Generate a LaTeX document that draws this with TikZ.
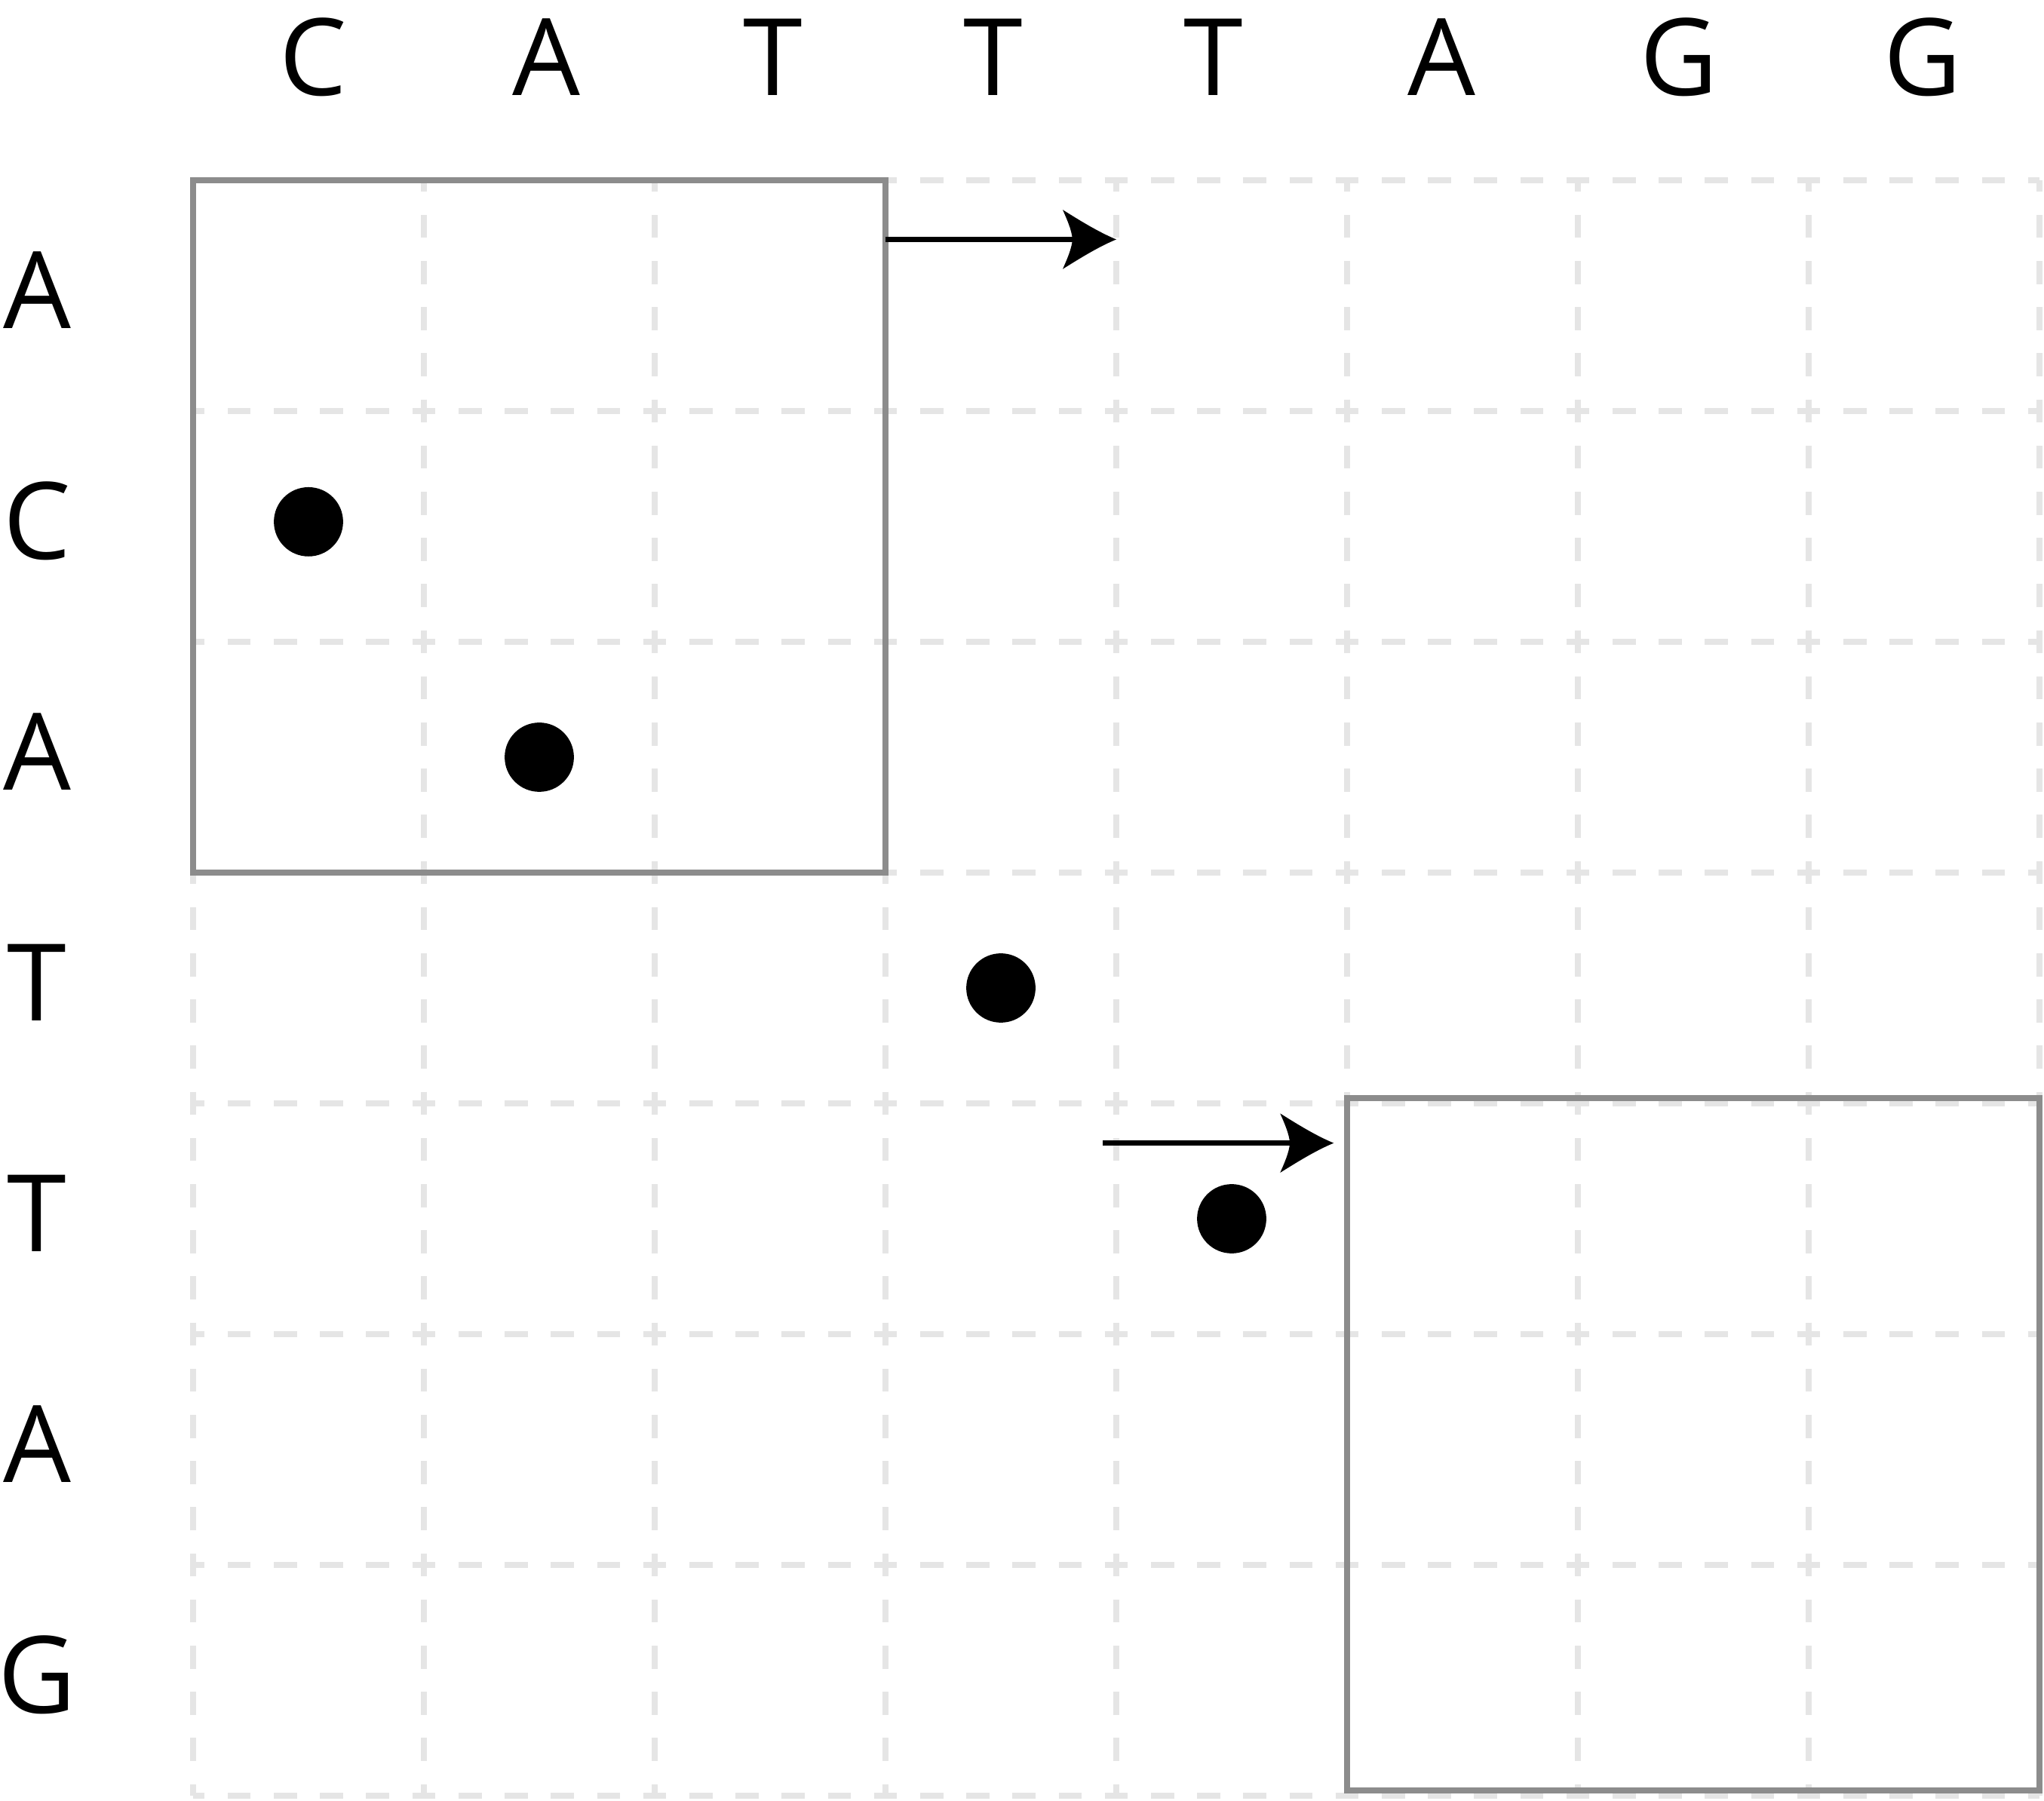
\documentclass[tikz,border=0pt]{standalone}
\usepackage{fontspec}
\setmainfont{Open Sans}
\usetikzlibrary{arrows.meta}

% curved arrow head
\pgfdeclarearrow{
  name=Swoop,
  setup code={
    \pgfarrowssettipend{0pt}
    \pgfarrowssetlineend{-4.5pt}
    \pgfarrowssetvisualbackend{-5.4pt}
    \pgfarrowssetbackend{-6.6pt}
    \pgfarrowshullpoint{0pt}{0pt}
    \pgfarrowsupperhullpoint{-6.6pt}{3.65pt}
  },
  drawing code={
    \pgfpathmoveto{\pgfpointorigin}
    \pgfpathcurveto{\pgfpoint{-2.2pt}{0.9pt}}{\pgfpoint{-4.6pt}{2.4pt}}{\pgfpoint{-6.6pt}{3.65pt}}
    \pgfpathcurveto{\pgfpoint{-6.1pt}{2.5pt}}{\pgfpoint{-5.5pt}{1.2pt}}{\pgfpoint{-5.4pt}{0pt}}
    \pgfpathcurveto{\pgfpoint{-5.5pt}{-1.2pt}}{\pgfpoint{-6.1pt}{-2.5pt}}{\pgfpoint{-6.6pt}{-3.65pt}}
    \pgfpathcurveto{\pgfpoint{-4.6pt}{-2.4pt}}{\pgfpoint{-2.2pt}{-0.9pt}}{\pgfpointorigin}
    \pgfpathclose
    \pgfusepathqfill
  }
}

\begin{document}
\begin{tikzpicture}[x=1cm,y=-1cm,
    gridline/.style={draw=black!10,line width=0.68pt,dash pattern=on 1mm off 1mm,dash phase=0.5mm},
    base/.style={font=\fontsize{13.2}{16}\selectfont,inner sep=0pt,anchor=base},
    hit/.style={circle,fill=black,minimum size=3mm,inner sep=0pt},
    block/.style={draw=black!45,line width=0.7pt,minimum size=3cm,inner sep=0pt},
    move/.style={-Swoop,line width=0.6pt}]

    \useasboundingbox (-0.8366,-0.781) rectangle (8.0196,7.0197);

    % Grid
    \foreach \i in {0,...,8} \draw[gridline] (\i,0) -- (\i,7);
    \foreach \j in {0,...,7} \draw[gridline] (0,\j) -- (8,\j);

    % Sequences
    \foreach \x/\b [count=\i] in {0.519/C,1.530/A,2.513/T,3.467/T,4.421/T,5.409/A,6.437/G,7.493/G}
        \node[base] (c\i) at (\x,-0.369) {\b};
    \foreach \b [count=\i] in {A,C,A,T,T,A,G}
        \node[base] (r\i) at (-0.676,\i-0.358) {\b};

    % Matches
    \node[hit] (d1) at (0.5,1.48) {};
    \node[hit] (d2) at (1.5,2.5) {};
    \node[hit] (d3) at (3.5,3.5) {};
    \node[hit] (d4) at (4.5,4.5) {};

    % Windows
    \node[block] (box1) at (1.5,1.5) {};
    \node[block] (box2) at (6.5,5.477) {};

    % Shifts
    \coordinate (s1) at (3,0.2565);
    \coordinate (t1) at (4,0.2565);
    \coordinate (s2) at (3.942,4.172);
    \coordinate (t2) at (4.942,4.172);
    \draw[move] (s1) -- (t1);
    \draw[move] (s2) -- (t2);

\end{tikzpicture}
\end{document}
